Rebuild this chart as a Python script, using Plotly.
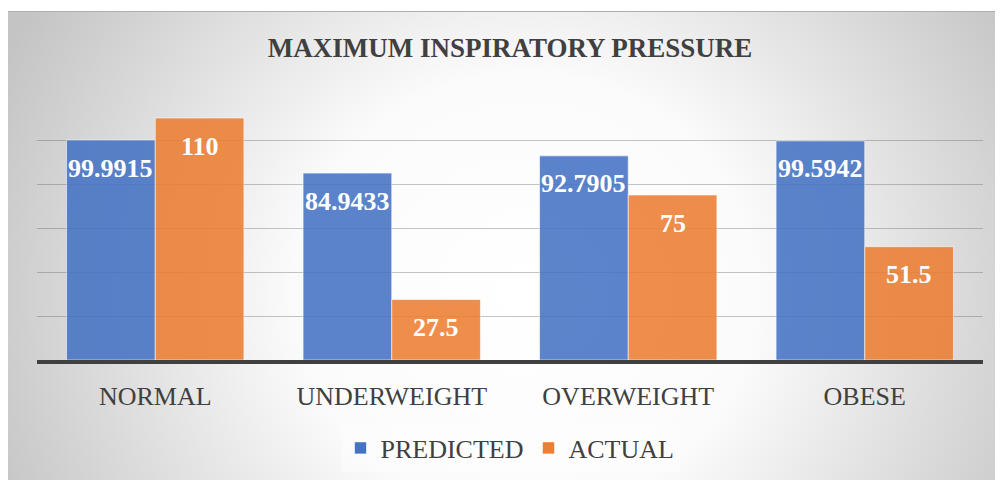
import base64
import plotly.graph_objects as go

categories = ["NORMAL", "UNDERWEIGHT", "OVERWEIGHT", "OBESE"]
predicted = [99.9915, 84.9433, 92.7905, 99.5942]
actual = [110, 27.5, 75, 51.5]
predicted_labels = ["99.9915", "84.9433", "92.7905", "99.5942"]
actual_labels = ["110", "27.5", "75", "51.5"]

FONT = "Liberation Serif"
TXT = "#404040"
BLUE = "#4472C4"
ORANGE = "#ED7D31"

# page has an 8px body margin: figure pixel = page pixel - 8
W, H = 995, 472
L, R, T, B = 29, 20, 88, 120
pw, ph = W - L - R, H - T - B

svg = '''<svg xmlns="http://www.w3.org/2000/svg" width="995" height="469" viewBox="0 0 995 469" preserveAspectRatio="none">
<defs><radialGradient id="g" cx="0.52" cy="0.6" r="0.58" gradientUnits="objectBoundingBox"
 gradientTransform="translate(0.52,0.6) scale(1,2) translate(-0.52,-0.6)">
<stop offset="0" stop-color="#ffffff"/><stop offset="0.4" stop-color="#fbfbfb"/>
<stop offset="1" stop-color="#c4c4c4"/></radialGradient></defs>
<rect x="0" y="0" width="995" height="469" fill="url(#g)"/>
<line x1="0" y1="0.5" x2="995" y2="0.5" stroke="#b0b0b0" stroke-width="1"/>
</svg>'''
src = "data:image/svg+xml;base64," + base64.b64encode(svg.encode()).decode()

fig = go.Figure()
fig.add_trace(go.Bar(name="PREDICTED", x=categories, y=predicted,
                     marker=dict(color=BLUE, opacity=0.87,
                                 line=dict(color="rgba(255,255,255,0.6)", width=1))))
fig.add_trace(go.Bar(name="ACTUAL", x=categories, y=actual,
                     marker=dict(color=ORANGE, opacity=0.87,
                                 line=dict(color="rgba(255,255,255,0.6)", width=1))))

bargap = 0.25
half = (1 - bargap) / 4
annos = []
for i in range(len(categories)):
    for off, val, lab in ((-half, predicted[i], predicted_labels[i]),
                          (half, actual[i], actual_labels[i])):
        annos.append(dict(x=i + off, y=val, xref="x", yref="y", text=lab,
                          showarrow=False, yanchor="middle", yshift=-28,
                          font=dict(family=FONT, size=26, color="white", weight="bold")))

fig.update_layout(
    width=W, height=H,
    margin=dict(l=L, r=R, t=T, b=B, pad=0, autoexpand=False),
    font=dict(family=FONT, color=TXT),
    paper_bgcolor="white", plot_bgcolor="rgba(0,0,0,0)",
    barmode="group", bargap=bargap, bargroupgap=0,
    title=dict(text="<b>MAXIMUM INSPIRATORY PRESSURE</b>", x=0.5, xref="paper",
               xanchor="center", y=1 - 39.5 / H, yref="container", yanchor="middle",
               font=dict(family=FONT, size=27, color=TXT)),
    xaxis=dict(showline=True, linecolor="#404040", linewidth=3.5, ticks="",
               ticklabelstandoff=10, automargin=False,
               tickfont=dict(family=FONT, size=26, color=TXT), showgrid=False),
    yaxis=dict(range=[0, 120], dtick=20, showticklabels=False, showgrid=True,
               automargin=False,
               gridcolor="rgba(90,90,90,0.35)", gridwidth=1, zeroline=False),
    legend=dict(orientation="h", x=0.5, xref="paper", xanchor="center",
                y=1 - 440 / H, yref="container", yanchor="middle",
                font=dict(family=FONT, size=26, color=TXT),
                bgcolor="rgba(255,255,255,0.35)"),
    annotations=annos,
    images=[dict(source=src, xref="paper", yref="paper",
                 x=(0 - L) / pw, y=(H - B - 3) / ph,
                 sizex=W / pw, sizey=(H - 3) / ph,
                 sizing="stretch", xanchor="left", yanchor="top", layer="below")],
)

fig.write_html("out.html")
